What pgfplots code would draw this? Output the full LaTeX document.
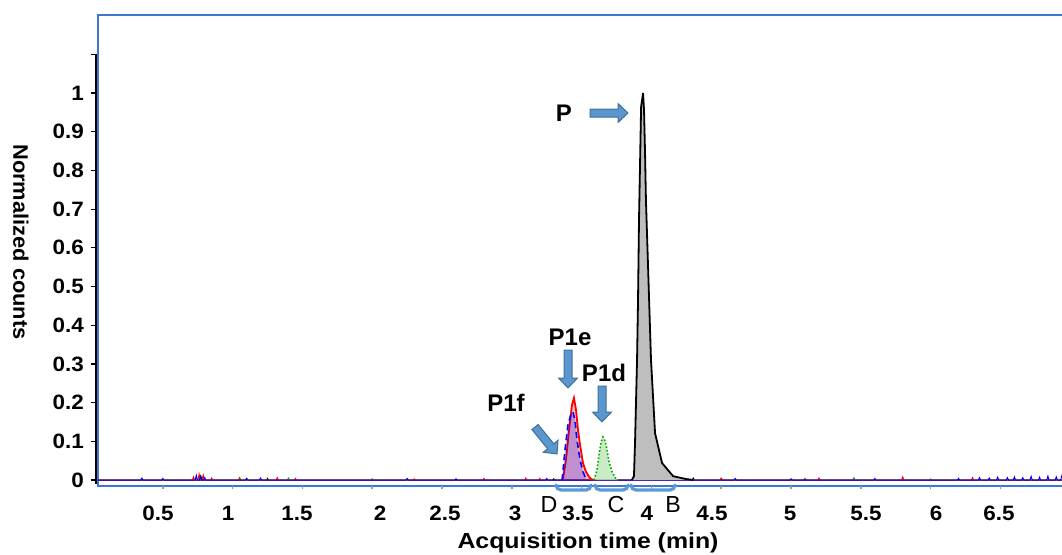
\documentclass[border=0pt]{standalone}
\usepackage{pgfplots}
\pgfplotsset{compat=1.18}
\usepackage{fontspec}
\setmainfont{Liberation Sans}
\newfontfamily\tickfont{Liberation Sans}[FakeStretch=1.08]
\newfontfamily\xlabfont{Liberation Sans}[FakeStretch=1.14]
\newfontfamily\ylabfont{Liberation Sans}[FakeStretch=1.04]
\usetikzlibrary{calc}
\definecolor{framecol}{RGB}{60,120,210}
\definecolor{arrowfill}{RGB}{91,150,206}
\definecolor{arrowedge}{RGB}{65,113,156}
\definecolor{brk}{RGB}{91,155,213}
\definecolor{pgray}{RGB}{190,190,190}
\definecolor{gline}{RGB}{0,170,0}
\definecolor{gfill}{RGB}{190,230,185}
\newcommand\barrow[2]{%
  \coordinate (bA) at #1; \coordinate (bB) at #2;
  \coordinate (bH) at ($(bB)!5pt!(bA)$);
  \filldraw[fill=arrowfill, draw=arrowedge, line width=0.5pt]
    ($(bA)!2pt!90:(bB)$) -- ($(bH)!2pt!90:(bB)$) -- ($(bH)!4.75pt!90:(bB)$) -- (bB)
    -- ($(bH)!4.75pt!-90:(bB)$) -- ($(bH)!2pt!-90:(bB)$) -- ($(bA)!2pt!-90:(bB)$) -- cycle;}
\newcommand\brk[2]{%
  \draw[brk, line width=1.6pt, line cap=round] (#1,485) to[out=-90,in=180] (#1+5,490) -- (#2-5,490) to[out=0,in=-90] (#2,485);}
\begin{document}
\begin{tikzpicture}[x=0.5pt,y=-0.5pt]
\coordinate (axsw) at (98,485.5);
\begin{axis}[at={(axsw)}, anchor=south west, scale only axis,
  width=485pt, height=235.25pt,
  xmin=0.0358, xmax=6.984, ymin=-0.0142, ymax=1.2016,
  axis line style={draw=framecol, line width=1pt},
  tick align=outside,
  ytick={0,0.1,0.2,0.3,0.4,0.5,0.6,0.7,0.8,0.9,1,1.1},
  yticklabels={0,0.1,0.2,0.3,0.4,0.5,0.6,0.7,0.8,0.9,1,{}},
  ytick pos=left,
  ytick style={draw=black, line width=0.6pt},
  major tick length=3.5pt,
  xtick={0.466,0.967,1.461,2.056,2.521,3.023,3.474,3.968,4.434,4.993,5.537,6.039,6.490},
  xticklabels={0.5,1,1.5,2,2.5,3,3.5,4,4.5,5,5.5,6,6.5},
  xtick pos=bottom,
  xtick style={draw=none},
  extra x ticks={0.5,1,1.5,2,2.5,3,3.5,4,4.5,5,5.5,6,6.5},
  extra x tick labels={},
  extra x tick style={xtick style={draw=gray!80, line width=0.8pt}, major tick length=1.5pt},
  ticklabel style={font=\fontsize{10.4}{12}\tickfont\bfseries},
  yticklabel style={anchor=east},
  xticklabel style={anchor=base, yshift=-14pt},
]
% baseline noise
\addplot[black, line width=0.5pt] coordinates {(0.03,0) (0.772,0) (0.78,0.008) (0.788,0) (1.092,0) (1.1,0.004) (1.108,0) (1.242,0) (1.25,0.004) (1.258,0) (3.292,0) (3.3,0.003) (3.308,0) (4.292,0) (4.3,0.005) (4.308,0) (4.492,0) (4.5,0.004) (4.508,0) (5.092,0) (5.1,0.003) (5.108,0) (6.99,0)};
\addplot[gline, line width=0.5pt] coordinates {(0.03,0) (1.042,0) (1.05,0.006) (1.058,0) (1.392,0) (1.4,0.005) (1.408,0) (1.992,0) (2.0,0.003) (2.008,0) (3.892,0) (3.9,0.015) (3.908,0) (4.092,0) (4.1,0.005) (4.108,0) (5.442,0) (5.45,0.006) (5.458,0) (5.992,0) (6.0,0.003) (6.008,0) (6.99,0)};
\addplot[red, line width=0.5pt] coordinates {(0.03,0) (0.712,0) (0.72,0.008) (0.728,0) (0.752,0) (0.76,0.015) (0.768,0) (0.782,0) (0.79,0.012) (0.798,0) (0.842,0) (0.85,0.005) (0.858,0) (1.042,0) (1.05,0.004) (1.058,0) (1.312,0) (1.32,0.006) (1.328,0) (1.442,0) (1.45,0.004) (1.458,0) (2.292,0) (2.3,0.003) (2.308,0) (2.792,0) (2.8,0.004) (2.808,0) (3.092,0) (3.1,0.005) (3.108,0) (3.192,0) (3.2,0.004) (3.208,0) (4.492,0) (4.5,0.004) (4.508,0) (5.192,0) (5.2,0.005) (5.208,0) (5.792,0) (5.8,0.008) (5.808,0) (6.292,0) (6.3,0.006) (6.308,0) (6.892,0) (6.9,0.004) (6.908,0) (6.99,0)};
\addplot[blue, line width=0.5pt] coordinates {(0.03,0) (0.342,0) (0.35,0.005) (0.358,0) (0.492,0) (0.5,0.004) (0.508,0) (0.732,0) (0.74,0.012) (0.748,0) (0.762,0) (0.77,0.01) (0.778,0) (0.792,0) (0.8,0.006) (0.808,0) (1.092,0) (1.1,0.004) (1.108,0) (1.192,0) (1.2,0.005) (1.208,0) (2.242,0) (2.25,0.004) (2.258,0) (2.592,0) (2.6,0.003) (2.608,0) (3.242,0) (3.25,0.004) (3.258,0) (4.592,0) (4.6,0.004) (4.608,0) (4.992,0) (5.0,0.003) (5.008,0) (5.592,0) (5.6,0.004) (5.608,0) (6.192,0) (6.2,0.004) (6.208,0) (6.342,0) (6.35,0.006) (6.358,0) (6.412,0) (6.42,0.005) (6.428,0) (6.472,0) (6.48,0.007) (6.488,0) (6.542,0) (6.55,0.006) (6.558,0) (6.592,0) (6.6,0.008) (6.608,0) (6.652,0) (6.66,0.006) (6.668,0) (6.712,0) (6.72,0.009) (6.728,0) (6.772,0) (6.78,0.007) (6.788,0) (6.832,0) (6.84,0.01) (6.848,0) (6.892,0) (6.9,0.008) (6.908,0) (6.932,0) (6.94,0.011) (6.948,0) (6.99,0)};
% P peak
\addplot[black, line width=0.9pt, fill=pgray] coordinates {(3.860,0) (3.875,0.01) (3.883,0.103) (3.890,0.207) (3.897,0.310) (3.904,0.465) (3.911,0.672) (3.926,0.964) (3.940,1.0) (3.947,0.956) (3.954,0.85) (3.961,0.72) (3.976,0.55) (3.997,0.310) (4.026,0.121) (4.076,0.044) (4.155,0.010) (4.241,0.003) (4.30,0)};
% P1d
\addplot[gline, line width=0.8pt, densely dotted, fill=gfill, fill opacity=0.8] coordinates {(3.589,0) (3.610,0.026) (3.625,0.065) (3.639,0.098) (3.653,0.111) (3.668,0.101) (3.682,0.078) (3.696,0.047) (3.718,0.021) (3.746,0.003) (3.760,0)};
% P1e
\addplot[red, line width=0.9pt, fill=red, fill opacity=0.25] coordinates {(3.360,0) (3.367,0.003) (3.388,0.052) (3.410,0.129) (3.431,0.194) (3.445,0.212) (3.460,0.181) (3.474,0.129) (3.489,0.090) (3.510,0.044) (3.531,0.021) (3.560,0.005) (3.582,0)};
% P1f
\addplot[blue, line width=0.8pt, densely dashed, fill=blue, fill opacity=0.25] coordinates {(3.360,0) (3.381,0.078) (3.402,0.142) (3.424,0.171) (3.438,0.176) (3.452,0.155) (3.467,0.103) (3.489,0.052) (3.510,0.021) (3.531,0.003) (3.545,0)};
\end{axis}
% black y axis line
\draw[black, line width=0.6pt] (96,54) -- (96,484);
% brackets
\brk{556}{591}
\brk{595}{628}
\brk{631}{675}
% arrows
\barrow{(590,113)}{(628,113)}
\barrow{(568,350)}{(568,388)}
\barrow{(602,386)}{(602,422)}
\barrow{(535,427)}{(557,454)}
% annotation texts
\begin{scope}[every node/.style={font=\fontsize{12}{14}\selectfont\bfseries, inner sep=0pt}]
\node at (564,113) {P};
\node at (570,337) {P1e};
\node at (604,373) {P1d};
\node at (506,403) {P1f};
\end{scope}
\begin{scope}[every node/.style={font=\fontsize{11.6}{14}\selectfont, inner sep=0pt}]
\node at (549,505) {D};
\node at (616,505) {C};
\node at (673,505) {B};
\end{scope}
\node[font=\fontsize{10.9}{13}\xlabfont\bfseries, anchor=base, inner sep=0pt] at (588,548) {Acquisition time (min)};
\node[font=\fontsize{10.5}{12}\ylabfont\bfseries, rotate=-90, inner sep=0pt] at (21,242) {Normalized counts};
\pgfresetboundingbox
\path (0,0) rectangle (1062,554);
\end{tikzpicture}
\end{document}
